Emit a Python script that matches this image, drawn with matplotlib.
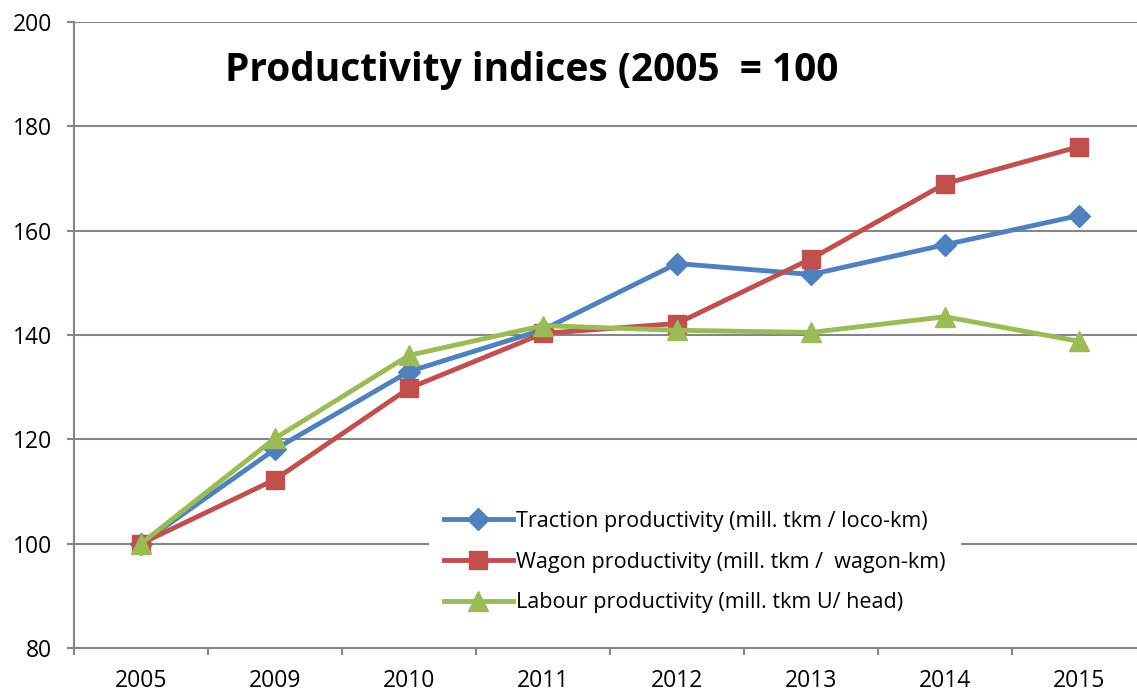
#!/usr/bin/env python3
"""
Productivity indices line chart (2005 = 100)
"""

import matplotlib
matplotlib.use('Agg')
import matplotlib.pyplot as plt
import numpy as np

years = ['2005', '2009', '2010', '2011', '2012', '2013', '2014', '2015']
traction = [100, 118.1, 133.0, 141.0, 153.7, 151.6, 157.3, 162.9]
wagon = [100, 112.3, 129.8, 140.3, 142.2, 154.6, 169.0, 176.1]
labour = [100, 120.2, 136.1, 141.8, 140.9, 140.5, 143.5, 138.8]
labels = ['Traction productivity (mill. tkm / loco-km)',
          'Wagon productivity (mill. tkm /  wagon-km)',
          'Labour productivity (mill. tkm U/ head)']
title = 'Productivity indices (2005  = 100'

plt.rcParams['font.family'] = ['Open Sans', 'DejaVu Sans']
grey = '#868686'

fig = plt.figure(figsize=(11.37, 6.95), dpi=100)
ax = fig.add_axes([74 / 1137, 47 / 695, (1146 - 74) / 1137, (648 - 22) / 695])

x = np.arange(len(years))
ax.plot(x, traction, color='#4F81BD', lw=3.5, marker='D', ms=11, label=labels[0], zorder=3)
ax.plot(x, wagon, color='#C0504D', lw=3.5, marker='s', ms=13, label=labels[1], zorder=3)
ax.plot(x, labour, color='#9BBB59', lw=3.5, marker='^', ms=14, label=labels[2], zorder=4)

ax.set_xlim(-0.5, len(years) - 0.5)
ax.set_ylim(80, 200)
ax.set_yticks(np.arange(80, 201, 20))
ax.set_xticks(x)
ax.set_xticklabels(years)
ax.set_xticks(np.arange(-0.5, len(years)), minor=True)
ax.tick_params(axis='x', which='major', length=0, pad=15, labelsize=16.5)
ax.tick_params(axis='x', which='minor', length=5, width=1.5, color=grey)
ax.tick_params(axis='y', length=5, width=1.5, color=grey, labelsize=16.5, pad=11)

ax.grid(axis='y', color=grey, lw=1.5)
ax.set_axisbelow(True)
for side in ['top', 'right']:
    ax.spines[side].set_visible(False)
for side in ['left', 'bottom']:
    ax.spines[side].set_color(grey)
    ax.spines[side].set_linewidth(1.5)

ax.text(225 / 1137, 1 - 70 / 695, title, transform=fig.transFigure, fontsize=28,
        fontweight='bold', va='center', ha='left')

leg = ax.legend(loc='upper left', bbox_to_anchor=(418 / 1137, 1 - 485 / 695),
                bbox_transform=fig.transFigure, fontsize=15.5, frameon=True,
                handlelength=3.2, handletextpad=0.15, labelspacing=0.92,
                borderpad=0.7)
leg.get_frame().set_edgecolor('none')
leg.get_frame().set_facecolor('white')
leg.get_frame().set_alpha(1)

fig.savefig('out.png', dpi=100)
